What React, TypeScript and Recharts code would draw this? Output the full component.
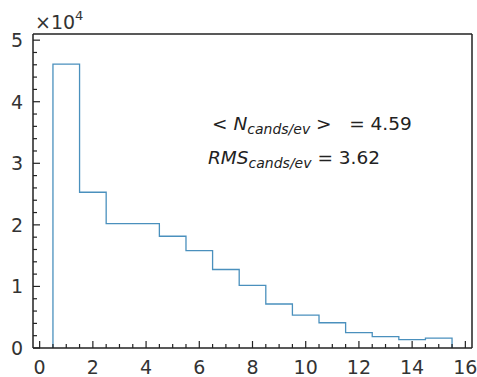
import { ComposedChart, Line, XAxis, YAxis, ReferenceLine } from "recharts"

// histogram: one count per unit-wide bin, edges at 0.5 ... 15.5
const binEdges = [0.5, 1.5, 2.5, 3.5, 4.5, 5.5, 6.5, 7.5, 8.5, 9.5, 10.5, 11.5, 12.5, 13.5, 14.5, 15.5]
const counts = [46100, 25300, 20200, 20200, 18150, 15830, 12750, 10180, 7150, 5350, 4100, 2500, 1850, 1350, 1600]

const xMajor = [0, 2, 4, 6, 8, 10, 12, 14, 16]
const xTicks = [0, 0.5, 1, 1.5, 2, 2.5, 3, 3.5, 4, 4.5, 5, 5.5, 6, 6.5, 7, 7.5, 8, 8.5, 9, 9.5, 10, 10.5, 11, 11.5, 12, 12.5, 13, 13.5, 14, 14.5, 15, 15.5, 16]
const yMajor = [0, 10000, 20000, 30000, 40000, 50000]
const yTicks = [0, 2000, 4000, 6000, 8000, 10000, 12000, 14000, 16000, 18000, 20000, 22000, 24000, 26000, 28000, 30000, 32000, 34000, 36000, 38000, 40000, 42000, 44000, 46000, 48000, 50000]

const meanText = "4.59"
const rmsText = "3.62"

// step points: rise at first edge, drop to zero at last edge
const points = [
  { x: binEdges[0], y: 0 },
  ...counts.map((c, i) => ({ x: binEdges[i], y: c })),
  { x: binEdges[binEdges.length - 1], y: counts[counts.length - 1] },
  { x: binEdges[binEdges.length - 1], y: 0 },
]

const FONT = "DejaVu Sans, sans-serif"
const AXIS = "#222"
const LABEL = "#333"

function XTick(props: any) {
  const { x, y, payload } = props
  const major = xMajor.includes(payload.value)
  return (
    <g>
      <line x1={x} y1={y} x2={x} y2={y - (major ? 7 : 4)} stroke={AXIS} strokeWidth={1.2} />
      {major && (
        <text x={x} y={y + 26} textAnchor="middle" fontSize={19} fontFamily={FONT} fill={LABEL}>
          {payload.value}
        </text>
      )}
    </g>
  )
}

function YTick(props: any) {
  const { x, y, payload } = props
  const major = yMajor.includes(payload.value)
  return (
    <g>
      <line x1={x} y1={y} x2={x + (major ? 7 : 4)} y2={y} stroke={AXIS} strokeWidth={1.2} />
      {major && (
        <text x={x - 10} y={y + 7} textAnchor="end" fontSize={19} fontFamily={FONT} fill={LABEL}>
          {payload.value / 10000}
        </text>
      )}
    </g>
  )
}

export default function App() {
  return (
    <div style={{ position: "fixed", left: 0, top: 0, width: 477, height: 377, background: "#fff" }}>
      <ComposedChart width={477} height={377} data={points} margin={{ top: 34, right: 5, bottom: 4, left: 3 }}>
        <XAxis
          dataKey="x"
          type="number"
          domain={[-0.25, 16.25]}
          ticks={xTicks}
          interval={0}
          height={25}
          tickSize={0}
          tickMargin={0}
          tickLine={false}
          tick={<XTick />}
          axisLine={{ stroke: AXIS, strokeWidth: 1.5 }}
        />
        <YAxis
          type="number"
          domain={[0, 51000]}
          ticks={yTicks}
          interval={0}
          width={30}
          tickSize={0}
          tickMargin={0}
          tickLine={false}
          tick={<YTick />}
          axisLine={{ stroke: AXIS, strokeWidth: 1.5 }}
        />
        <ReferenceLine y={51000} stroke={AXIS} strokeWidth={1.5} />
        <ReferenceLine x={16.25} stroke={AXIS} strokeWidth={1.5} />
        <Line
          dataKey="y"
          type="stepAfter"
          stroke="#4a90bd"
          strokeWidth={1.3}
          dot={false}
          activeDot={false}
          isAnimationActive={false}
        />
      </ComposedChart>
      <svg width={477} height={377} style={{ position: "absolute", left: 0, top: 0, pointerEvents: "none" }}>
        <text x={35} y={29} fontSize={19} fontFamily={FONT} fill={LABEL}>
          ×10<tspan fontSize={13} dy={-9}>4</tspan>
        </text>
        <text x={212} y={130} fontSize={18.5} fontFamily={FONT} fill="#222">
          {"<\u00a0"}
          <tspan fontStyle="italic">N</tspan>
          <tspan fontStyle="italic" fontSize={14} dy={4}>cands/ev</tspan>
          <tspan dy={-4}>{"\u00a0>\u00a0\u00a0\u00a0= " + meanText}</tspan>
        </text>
        <text x={208} y={164} fontSize={18.5} fontFamily={FONT} fill="#222">
          <tspan fontStyle="italic">RMS</tspan>
          <tspan fontStyle="italic" fontSize={14} dy={4}>cands/ev</tspan>
          <tspan dy={-4}>{" = " + rmsText}</tspan>
        </text>
      </svg>
    </div>
  )
}
